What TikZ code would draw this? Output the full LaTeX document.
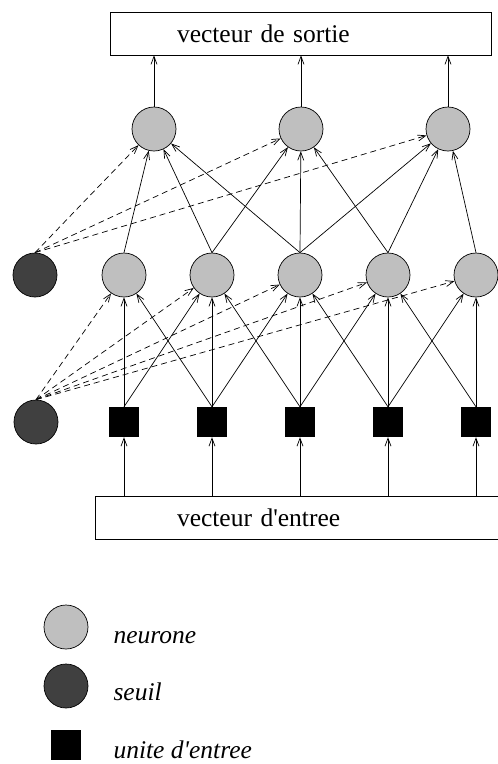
\documentclass[tikz,border=0pt]{standalone}
\usepackage{fontspec}
\setmainfont{Liberation Serif}
\usepackage{tikz}
\usetikzlibrary{arrows.meta}

\begin{document}
\begin{tikzpicture}[x=1pt,y=-1pt,>={Straight Barb[length=8pt,width=6pt]},
    every node/.style={font=\fontsize{25.5}{30}\selectfont},
    neurone/.style={circle,draw,line width=0.7pt,fill=gray!50,minimum size=44pt,inner sep=0pt},
    seuil/.style={circle,draw,line width=0.7pt,fill=black!75,minimum size=44pt,inner sep=0pt},
    unite/.style={rectangle,fill=black,minimum size=30pt,inner sep=0pt},
    vecteur/.style={rectangle,draw,line width=0.7pt,minimum height=43pt,align=left},
    lien/.style={->,line width=0.7pt},
    biais/.style={->,line width=0.7pt,dash pattern=on 6pt off 4pt}]

    \useasboundingbox (0,0) rectangle (498,764);

    \node[vecteur,inner xsep=67pt,text width=247pt] (sortie) at (300.5, 33.5) {vecteur de sortie};
    \node[vecteur,inner xsep=82pt,text width=246pt] (entree) at (300, 518)   {vecteur d\textquotesingle entree};

    \node[neurone] (o1) at (154, 129) {};
    \node[neurone] (o2) at (301, 129) {};
    \node[neurone] (o3) at (448, 129) {};

    \node[seuil]   (s1) at (35, 275)  {};
    \node[neurone] (h1) at (124, 275) {};
    \node[neurone] (h2) at (212, 275) {};
    \node[neurone] (h3) at (300, 275) {};
    \node[neurone] (h4) at (388, 275) {};
    \node[neurone] (h5) at (476, 275) {};

    \node[seuil] (s2) at (36, 422)  {};
    \node[unite] (e1) at (124, 422) {};
    \node[unite] (e2) at (212, 422) {};
    \node[unite] (e3) at (300, 422) {};
    \node[unite] (e4) at (388, 422) {};
    \node[unite] (e5) at (476, 422) {};

    % legende
    \node[neurone] (ln) at (66, 627) {};
    \node[seuil]   (ls) at (66, 686) {};
    \node[unite]   (lu) at (66, 745) {};
    \node[anchor=base west] (tn) at (110, 643) {\itshape neurone};
    \node[anchor=base west] (ts) at (110, 700) {\itshape seuil};
    \node[anchor=base west] (tu) at (110, 758) {\itshape unite d\textquotesingle entree};

    % entree -> unites
    \draw (entree.north -| e1) edge[lien] (e1);
    \draw (entree.north -| e2) edge[lien] (e2);
    \draw (entree.north -| e3) edge[lien] (e3);
    \draw (entree.north -| e4) edge[lien] (e4);
    \draw (entree.north -| e5) edge[lien] (e5);

    % unites -> couche cachee
    \draw (e1.north) edge[lien] (h1);
    \draw (e1.north) edge[lien] (h2);
    \draw (e2.north) edge[lien] (h1);
    \draw (e2.north) edge[lien] (h2);
    \draw (e2.north) edge[lien] (h3);
    \draw (e3.north) edge[lien] (h2);
    \draw (e3.north) edge[lien] (h3);
    \draw (e3.north) edge[lien] (h4);
    \draw (e4.north) edge[lien] (h3);
    \draw (e4.north) edge[lien] (h4);
    \draw (e4.north) edge[lien] (h5);
    \draw (e5.north) edge[lien] (h4);
    \draw (e5.north) edge[lien] (h5);

    % seuil -> couche cachee
    \draw (s2.north) edge[biais] (h1);
    \draw (s2.north) edge[biais] (h2);
    \draw (s2.north) edge[biais] (h3);
    \draw (s2.north) edge[biais] (h4);
    \draw (s2.north) edge[biais] (h5);

    % couche cachee -> sortie
    \draw (h1.north) edge[lien] (o1);
    \draw (h2.north) edge[lien] (o1);
    \draw (h2.north) edge[lien] (o2);
    \draw (h3.north) edge[lien] (o1);
    \draw (h3.north) edge[lien] (o2);
    \draw (h3.north) edge[lien] (o3);
    \draw (h4.north) edge[lien] (o2);
    \draw (h4.north) edge[lien] (o3);
    \draw (h5.north) edge[lien] (o3);

    % seuil -> sortie
    \draw (s1.north) edge[biais] (o1);
    \draw (s1.north) edge[biais] (o2);
    \draw (s1.north) edge[biais] (o3);

    \draw (o1.north) edge[lien] (o1 |- sortie.south);
    \draw (o2.north) edge[lien] (o2 |- sortie.south);
    \draw (o3.north) edge[lien] (o3 |- sortie.south);
\end{tikzpicture}
\end{document}
